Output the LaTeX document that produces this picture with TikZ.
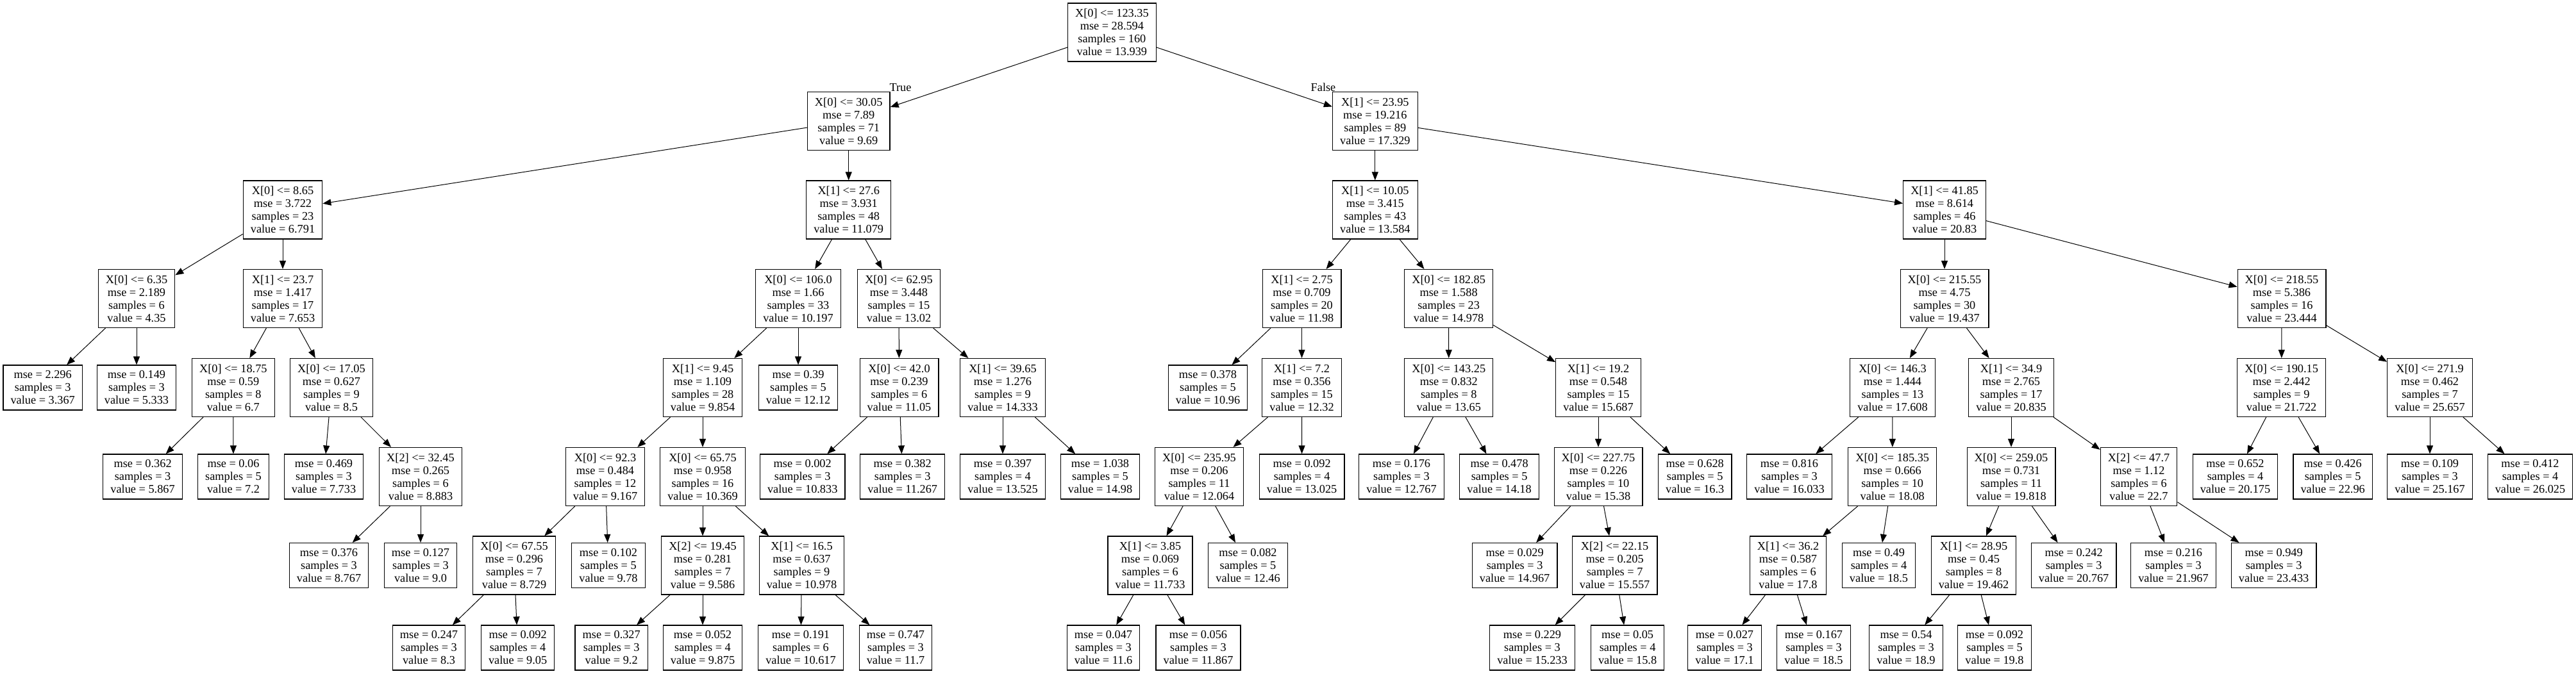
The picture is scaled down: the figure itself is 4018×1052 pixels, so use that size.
\documentclass[tikz,border=0pt]{standalone}
\usepackage{fontspec}
\setmainfont{Liberation Serif}
\usetikzlibrary{arrows.meta}

\begin{document}
\begin{tikzpicture}[x=0.5pt, y=-0.5pt, line width=0.5pt,
	font=\fontsize{9.15}{10}\selectfont,
	testbox/.style={shape=rectangle, draw=black, line width=0.6pt, align=center, inner xsep=5.8pt, inner ysep=2pt, minimum height=45.5pt},
	leafbox/.style={testbox, minimum height=35pt},
	>={Triangle[length=6.5pt, width=5pt]}]
	\useasboundingbox (0,0) rectangle (4018,1052);

	% depth 0 and 1
	\draw (1734.4,50.5) node[testbox](n0){X[0] <= 123.35\\mse = 28.594\\samples = 160\\value = 13.939};
	\draw (1323.7,189) node[testbox](n1){X[0] <= 30.05\\mse = 7.89\\samples = 71\\value = 9.69};
	\draw (2144.8,189) node[testbox](n38){X[1] <= 23.95\\mse = 19.216\\samples = 89\\value = 17.329};
	\draw (1404.5,137) node(t){True};
	\draw (2064,136) node(f){False};

	% left half
	\draw (441,327.5) node[testbox](n2){X[0] <= 8.65\\mse = 3.722\\samples = 23\\value = 6.791};
	\draw (213,466) node[testbox](n3){X[0] <= 6.35\\mse = 2.189\\samples = 6\\value = 4.35};
	\draw (66.7,605) node[leafbox](n4){mse = 2.296\\samples = 3\\value = 3.367};
	\draw (213,605) node[leafbox](n5){mse = 0.149\\samples = 3\\value = 5.333};
	\draw (441,466) node[testbox](n6){X[1] <= 23.7\\mse = 1.417\\samples = 17\\value = 7.653};
	\draw (363.8,605) node[testbox](n7){X[0] <= 18.75\\mse = 0.59\\samples = 8\\value = 6.7};
	\draw (222.6,744) node[leafbox](n8){mse = 0.362\\samples = 3\\value = 5.867};
	\draw (364,744) node[leafbox](n9){mse = 0.06\\samples = 5\\value = 7.2};
	\draw (517,605) node[testbox](n10){X[0] <= 17.05\\mse = 0.627\\samples = 9\\value = 8.5};
	\draw (505,744) node[leafbox](n11){mse = 0.469\\samples = 3\\value = 7.733};
	\draw (656,744) node[testbox](n12){X[2] <= 32.45\\mse = 0.265\\samples = 6\\value = 8.883};
	\draw (513,882.5) node[leafbox](n13){mse = 0.376\\samples = 3\\value = 8.767};
	\draw (656,882.5) node[leafbox](n14){mse = 0.127\\samples = 3\\value = 9.0};
	\draw (1323.7,327.5) node[testbox](n15){X[1] <= 27.6\\mse = 3.931\\samples = 48\\value = 11.079};
	\draw (1245,466) node[testbox](n16){X[0] <= 106.0\\mse = 1.66\\samples = 33\\value = 10.197};
	\draw (1096,605) node[testbox](n17){X[1] <= 9.45\\mse = 1.109\\samples = 28\\value = 9.854};
	\draw (944,744) node[testbox](n18){X[0] <= 92.3\\mse = 0.484\\samples = 12\\value = 9.167};
	\draw (802,882.5) node[testbox](n19){X[0] <= 67.55\\mse = 0.296\\samples = 7\\value = 8.729};
	\draw (669,1011) node[leafbox](n20){mse = 0.247\\samples = 3\\value = 8.3};
	\draw (807.6,1011) node[leafbox](n21){mse = 0.092\\samples = 4\\value = 9.05};
	\draw (949,882.5) node[leafbox](n22){mse = 0.102\\samples = 5\\value = 9.78};
	\draw (1096,744) node[testbox](n23){X[0] <= 65.75\\mse = 0.958\\samples = 16\\value = 10.369};
	\draw (1096,882.5) node[testbox](n24){X[2] <= 19.45\\mse = 0.281\\samples = 7\\value = 9.586};
	\draw (953.7,1011) node[leafbox](n25){mse = 0.327\\samples = 3\\value = 9.2};
	\draw (1096,1011) node[leafbox](n26){mse = 0.052\\samples = 4\\value = 9.875};
	\draw (1250.5,882.5) node[testbox](n27){X[1] <= 16.5\\mse = 0.637\\samples = 9\\value = 10.978};
	\draw (1249,1011) node[leafbox](n28){mse = 0.191\\samples = 6\\value = 10.617};
	\draw (1397,1011) node[leafbox](n29){mse = 0.747\\samples = 3\\value = 11.7};
	\draw (1245,605) node[leafbox](n30){mse = 0.39\\samples = 5\\value = 12.12};
	\draw (1402,466) node[testbox](n31){X[0] <= 62.95\\mse = 3.448\\samples = 15\\value = 13.02};
	\draw (1402.5,605) node[testbox](n32){X[0] <= 42.0\\mse = 0.239\\samples = 6\\value = 11.05};
	\draw (1251.7,744) node[leafbox](n33){mse = 0.002\\samples = 3\\value = 10.833};
	\draw (1407.7,744) node[leafbox](n34){mse = 0.382\\samples = 3\\value = 11.267};
	\draw (1564,605) node[testbox](n35){X[1] <= 39.65\\mse = 1.276\\samples = 9\\value = 14.333};
	\draw (1564,744) node[leafbox](n36){mse = 0.397\\samples = 4\\value = 13.525};
	\draw (1716,744) node[leafbox](n37){mse = 1.038\\samples = 5\\value = 14.98};

	% right half
	\draw (2144.8,327.5) node[testbox](n39){X[1] <= 10.05\\mse = 3.415\\samples = 43\\value = 13.584};
	\draw (2030.5,466) node[testbox](n40){X[1] <= 2.75\\mse = 0.709\\samples = 20\\value = 11.98};
	\draw (1884,605) node[leafbox](n41){mse = 0.378\\samples = 5\\value = 10.96};
	\draw (2030.5,605) node[testbox](n42){X[1] <= 7.2\\mse = 0.356\\samples = 15\\value = 12.32};
	\draw (1870.5,744) node[testbox](n43){X[0] <= 235.95\\mse = 0.206\\samples = 11\\value = 12.064};
	\draw (1794,882.5) node[testbox](n44){X[1] <= 3.85\\mse = 0.069\\samples = 6\\value = 11.733};
	\draw (1721,1011) node[leafbox](n45){mse = 0.047\\samples = 3\\value = 11.6};
	\draw (1869,1011) node[leafbox](n46){mse = 0.056\\samples = 3\\value = 11.867};
	\draw (1946.5,882.5) node[leafbox](n47){mse = 0.082\\samples = 5\\value = 12.46};
	\draw (2030.6,744) node[leafbox](n48){mse = 0.092\\samples = 4\\value = 13.025};
	\draw (2259.6,466) node[testbox](n49){X[0] <= 182.85\\mse = 1.588\\samples = 23\\value = 14.978};
	\draw (2259.8,605) node[testbox](n50){X[0] <= 143.25\\mse = 0.832\\samples = 8\\value = 13.65};
	\draw (2186,744) node[leafbox](n51){mse = 0.176\\samples = 3\\value = 12.767};
	\draw (2338.6,744) node[leafbox](n52){mse = 0.478\\samples = 5\\value = 14.18};
	\draw (2493,605) node[testbox](n53){X[1] <= 19.2\\mse = 0.548\\samples = 15\\value = 15.687};
	\draw (2493,744) node[testbox](n54){X[0] <= 227.75\\mse = 0.226\\samples = 10\\value = 15.38};
	\draw (2362.6,882.5) node[leafbox](n55){mse = 0.029\\samples = 3\\value = 14.967};
	\draw (2518.6,882.5) node[testbox](n56){X[2] <= 22.15\\mse = 0.205\\samples = 7\\value = 15.557};
	\draw (2390,1011) node[leafbox](n57){mse = 0.229\\samples = 3\\value = 15.233};
	\draw (2538.6,1011) node[leafbox](n58){mse = 0.05\\samples = 4\\value = 15.8};
	\draw (2643.7,744) node[leafbox](n59){mse = 0.628\\samples = 5\\value = 16.3};
	\draw (3033,327.5) node[testbox](n60){X[1] <= 41.85\\mse = 8.614\\samples = 46\\value = 20.83};
	\draw (3033,466) node[testbox](n61){X[0] <= 215.55\\mse = 4.75\\samples = 30\\value = 19.437};
	\draw (2952,605) node[testbox](n62){X[0] <= 146.3\\mse = 1.444\\samples = 13\\value = 17.608};
	\draw (2791,744) node[leafbox](n63){mse = 0.816\\samples = 3\\value = 16.033};
	\draw (2951.7,744) node[testbox](n64){X[0] <= 185.35\\mse = 0.666\\samples = 10\\value = 18.08};
	\draw (2789,882.5) node[testbox](n65){X[1] <= 36.2\\mse = 0.587\\samples = 6\\value = 17.8};
	\draw (2690,1011) node[leafbox](n66){mse = 0.027\\samples = 3\\value = 17.1};
	\draw (2829,1011) node[leafbox](n67){mse = 0.167\\samples = 3\\value = 18.5};
	\draw (2930.5,882.5) node[leafbox](n68){mse = 0.49\\samples = 4\\value = 18.5};
	\draw (3137,605) node[testbox](n69){X[1] <= 34.9\\mse = 2.765\\samples = 17\\value = 20.835};
	\draw (3137,744) node[testbox](n70){X[0] <= 259.05\\mse = 0.731\\samples = 11\\value = 19.818};
	\draw (3078.5,882.5) node[testbox](n71){X[1] <= 28.95\\mse = 0.45\\samples = 8\\value = 19.462};
	\draw (2973,1011) node[leafbox](n72){mse = 0.54\\samples = 3\\value = 18.9};
	\draw (3111,1011) node[leafbox](n73){mse = 0.092\\samples = 5\\value = 19.8};
	\draw (3234.6,882.5) node[leafbox](n74){mse = 0.242\\samples = 3\\value = 20.767};
	\draw (3336,744) node[testbox](n75){X[2] <= 47.7\\mse = 1.12\\samples = 6\\value = 22.7};
	\draw (3390,882.5) node[leafbox](n76){mse = 0.216\\samples = 3\\value = 21.967};
	\draw (3546.6,882.5) node[leafbox](n77){mse = 0.949\\samples = 3\\value = 23.433};
	\draw (3559,466) node[testbox](n78){X[0] <= 218.55\\mse = 5.386\\samples = 16\\value = 23.444};
	\draw (3558.6,605) node[testbox](n79){X[0] <= 190.15\\mse = 2.442\\samples = 9\\value = 21.722};
	\draw (3486.5,744) node[leafbox](n80){mse = 0.652\\samples = 4\\value = 20.175};
	\draw (3638.6,744) node[leafbox](n81){mse = 0.426\\samples = 5\\value = 22.96};
	\draw (3790,605) node[testbox](n82){X[0] <= 271.9\\mse = 0.462\\samples = 7\\value = 25.657};
	\draw (3790,744) node[leafbox](n83){mse = 0.109\\samples = 3\\value = 25.167};
	\draw (3946.5,744) node[leafbox](n84){mse = 0.412\\samples = 4\\value = 26.025};

	% edges
	\draw [->](n0) -- (n1);
	\draw [->](n0) -- (n38);
	\draw [->](n1) -- (n2);
	\draw [->](n1) -- (n15);
	\draw [->](n2) -- (n3);
	\draw [->](n2) -- (n6);
	\draw [->](n3) -- (n4);
	\draw [->](n3) -- (n5);
	\draw [->](n6) -- (n7);
	\draw [->](n6) -- (n10);
	\draw [->](n7) -- (n8);
	\draw [->](n7) -- (n9);
	\draw [->](n10) -- (n11);
	\draw [->](n10) -- (n12);
	\draw [->](n12) -- (n13);
	\draw [->](n12) -- (n14);
	\draw [->](n15) -- (n16);
	\draw [->](n15) -- (n31);
	\draw [->](n16) -- (n17);
	\draw [->](n16) -- (n30);
	\draw [->](n17) -- (n18);
	\draw [->](n17) -- (n23);
	\draw [->](n18) -- (n19);
	\draw [->](n18) -- (n22);
	\draw [->](n19) -- (n20);
	\draw [->](n19) -- (n21);
	\draw [->](n23) -- (n24);
	\draw [->](n23) -- (n27);
	\draw [->](n24) -- (n25);
	\draw [->](n24) -- (n26);
	\draw [->](n27) -- (n28);
	\draw [->](n27) -- (n29);
	\draw [->](n31) -- (n32);
	\draw [->](n31) -- (n35);
	\draw [->](n32) -- (n33);
	\draw [->](n32) -- (n34);
	\draw [->](n35) -- (n36);
	\draw [->](n35) -- (n37);
	\draw [->](n38) -- (n39);
	\draw [->](n38) -- (n60);
	\draw [->](n39) -- (n40);
	\draw [->](n39) -- (n49);
	\draw [->](n40) -- (n41);
	\draw [->](n40) -- (n42);
	\draw [->](n42) -- (n43);
	\draw [->](n42) -- (n48);
	\draw [->](n43) -- (n44);
	\draw [->](n43) -- (n47);
	\draw [->](n44) -- (n45);
	\draw [->](n44) -- (n46);
	\draw [->](n49) -- (n50);
	\draw [->](n49) -- (n53);
	\draw [->](n50) -- (n51);
	\draw [->](n50) -- (n52);
	\draw [->](n53) -- (n54);
	\draw [->](n53) -- (n59);
	\draw [->](n54) -- (n55);
	\draw [->](n54) -- (n56);
	\draw [->](n56) -- (n57);
	\draw [->](n56) -- (n58);
	\draw [->](n60) -- (n61);
	\draw [->](n60) -- (n78);
	\draw [->](n61) -- (n62);
	\draw [->](n61) -- (n69);
	\draw [->](n62) -- (n63);
	\draw [->](n62) -- (n64);
	\draw [->](n64) -- (n65);
	\draw [->](n64) -- (n68);
	\draw [->](n65) -- (n66);
	\draw [->](n65) -- (n67);
	\draw [->](n69) -- (n70);
	\draw [->](n69) -- (n75);
	\draw [->](n70) -- (n71);
	\draw [->](n70) -- (n74);
	\draw [->](n71) -- (n72);
	\draw [->](n71) -- (n73);
	\draw [->](n75) -- (n76);
	\draw [->](n75) -- (n77);
	\draw [->](n78) -- (n79);
	\draw [->](n78) -- (n82);
	\draw [->](n79) -- (n80);
	\draw [->](n79) -- (n81);
	\draw [->](n82) -- (n83);
	\draw [->](n82) -- (n84);
\end{tikzpicture}
\end{document}
